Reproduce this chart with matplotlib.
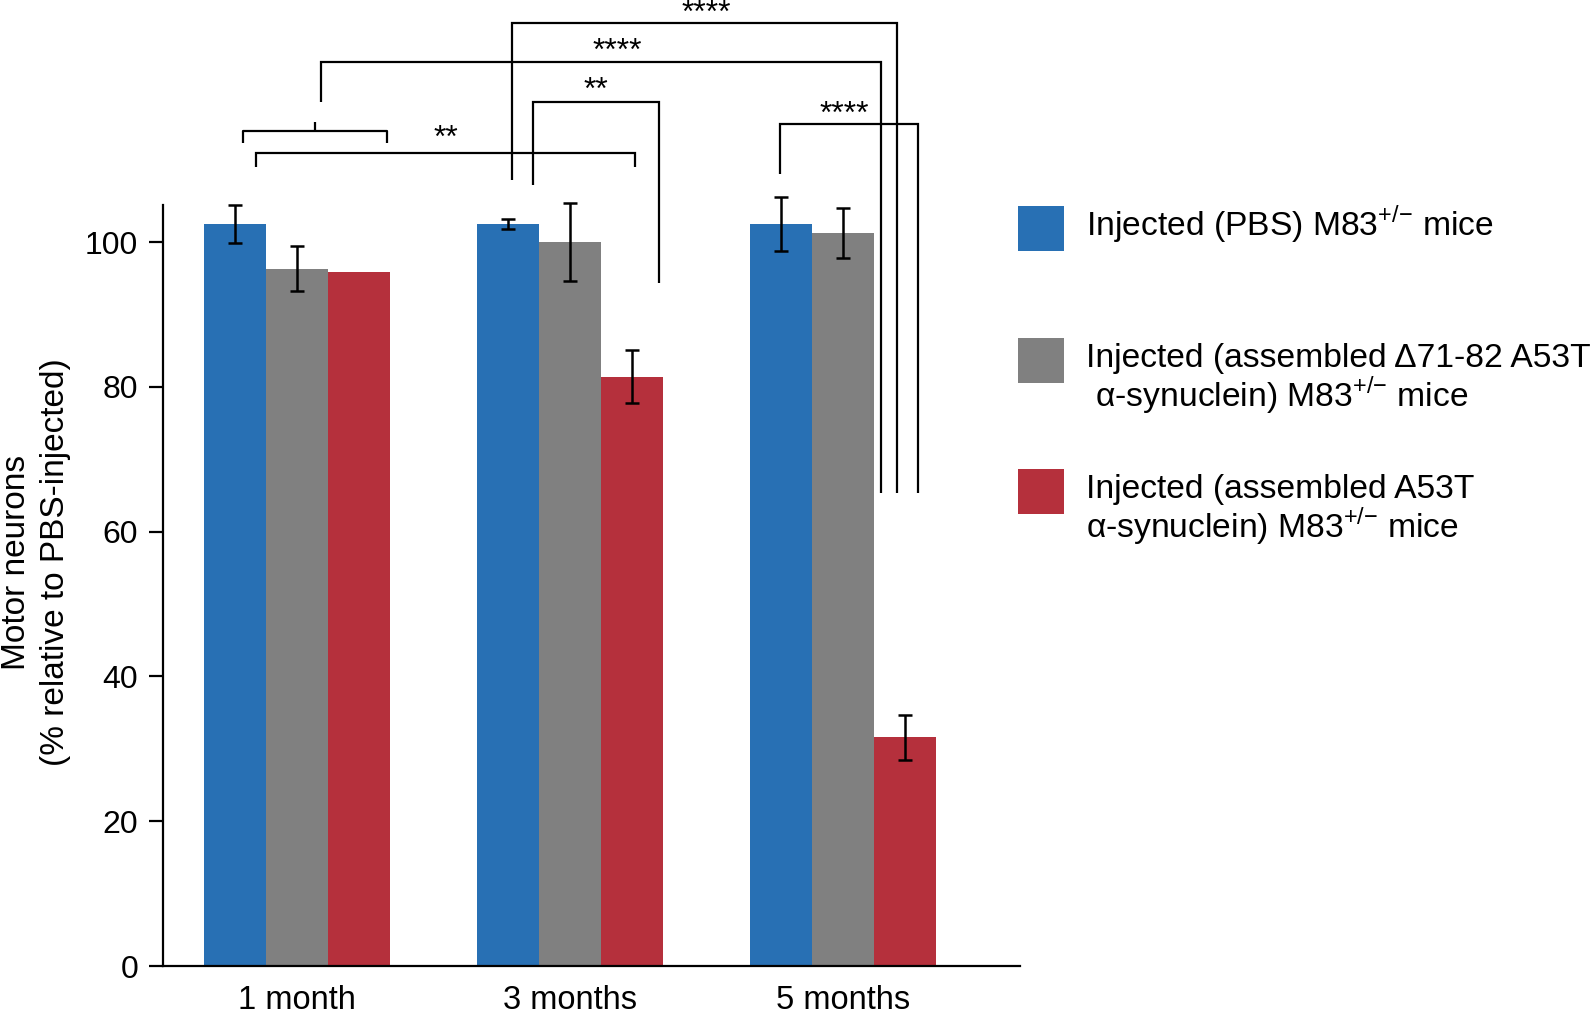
import numpy as np
import matplotlib
matplotlib.use('Agg')
import matplotlib.pyplot as plt
from matplotlib.patches import Rectangle

plt.rcParams['font.family'] = ['Liberation Sans', 'DejaVu Sans']
plt.rcParams['mathtext.fontset'] = 'custom'
plt.rcParams['mathtext.rm'] = 'Liberation Sans'

# ---------------- data ----------------
categories = ['1 month', '3 months', '5 months']
sup = '$^{\\mathregular{+/{-}}}$'
series_labels = [
    ['Injected (PBS) M83' + sup + ' mice'],
    ['Injected (assembled \u039471-82 A53T', ' \u03b1-synuclein) M83' + sup + ' mice'],
    ['Injected (assembled A53T', '\u03b1-synuclein) M83' + sup + ' mice'],
]
pbs = [102.5, 102.5, 102.5]
pbs_err = [2.6, 0.65, 3.75]
delta = [96.3, 100.0, 101.2]
delta_err = [3.1, 5.45, 3.45]
a53t = [95.8, 81.4, 31.6]
a53t_err = [0.0, 3.65, 3.1]
yticks = [0, 20, 40, 60, 80, 100]
ylabel = 'Motor neurons\n(% relative to PBS-injected)'
colors = ['#2870B4', '#808080', '#B5303C']

# significance annotations: (x-left, x-right, y, y-left-end, y-right-end, label, label-x, label-y)
brackets = [
    (-0.150, 1.238, 112.3, 110.4, 110.4, '**', 0.546, 115.1),
    (0.088, 2.139, 124.9, 119.4, 65.3, '****', 1.172, 127.1),
    (0.788, 2.196, 130.3, 108.6, 65.3, '****', 1.498, 132.3),
    (0.864, 1.326, 119.4, 107.9, 94.4, '**', 1.095, 121.7),
    (1.769, 2.275, 116.3, 109.4, 65.3, '****', 2.004, 118.4),
]

# ---------------- figure ----------------
W, H = 1594, 1014
fig = plt.figure(figsize=(W / 100, H / 100), dpi=100)
ax = fig.add_axes([163 / W, 48 / H, (1020 - 163) / W, 966 / H])

x = np.arange(len(categories))
bw = 0.227
series = [(pbs, pbs_err), (delta, delta_err), (a53t, a53t_err)]
for i, (vals, errs) in enumerate(series):
    xpos = x + (i - 1) * bw
    ax.bar(xpos, vals, width=bw, color=colors[i], edgecolor='none', zorder=2)
    vals = np.asarray(vals)
    errs = np.asarray(errs)
    m = errs > 0
    ax.errorbar(xpos[m], vals[m], yerr=errs[m], fmt='none', ecolor='black',
                elinewidth=1.8, capsize=5, capthick=1.8, zorder=3)

ax.set_xlim(-0.491, 2.648)
ax.set_ylim(0, 133.43)
ax.set_xticks(x)
ax.set_xticklabels(categories, fontsize=23.5)
ax.set_yticks(yticks)
ax.set_yticklabels([str(t) for t in yticks], fontsize=23)
ax.tick_params(axis='x', length=0, pad=14)
ax.tick_params(axis='y', length=10, width=1.6, pad=8)
for s in ['top', 'right']:
    ax.spines[s].set_visible(False)
ax.spines['left'].set_bounds(0, 105.1)
ax.spines['left'].set_linewidth(1.6)
ax.spines['bottom'].set_linewidth(1.6)

fig.text(36 / W, 1 - 562 / H, ylabel, rotation=90, ha='center', va='center',
         fontsize=24, multialignment='center', linespacing=1.3)

# small bracket over 1 month group
lw = 1.6
ax.plot([-0.198, -0.198, 0.330, 0.330], [113.7, 115.4, 115.4, 113.7],
        color='black', lw=lw, clip_on=False, solid_capstyle='butt')
ax.plot([0.066, 0.066], [115.4, 116.6], color='black', lw=lw, clip_on=False,
        solid_capstyle='butt')

for (x1, x2, y, yl, yr, lab, tx, ty) in brackets:
    ax.plot([x1, x1, x2, x2], [yl, y, y, yr], color='black', lw=lw,
            clip_on=False, solid_capstyle='butt', solid_joinstyle='miter')
    ax.text(tx, ty - 0.8, lab, ha='center', va='center', fontsize=23, clip_on=False)

# legend (manual)
pw, ph = 46, 45
patch_top = [206, 337.5, 468.7]
baselines = [[236], [367, 407], [498, 538]]
for i in range(3):
    fig.patches.append(Rectangle((1018 / W, 1 - (patch_top[i] + ph) / H), pw / W, ph / H,
                                 transform=fig.transFigure, facecolor=colors[i],
                                 edgecolor='none'))
    for line, by in zip(series_labels[i], baselines[i]):
        fig.text(1086 / W, 1 - by / H, line, ha='left', va='baseline', fontsize=24.2)

fig.savefig('out.png', dpi=100)
